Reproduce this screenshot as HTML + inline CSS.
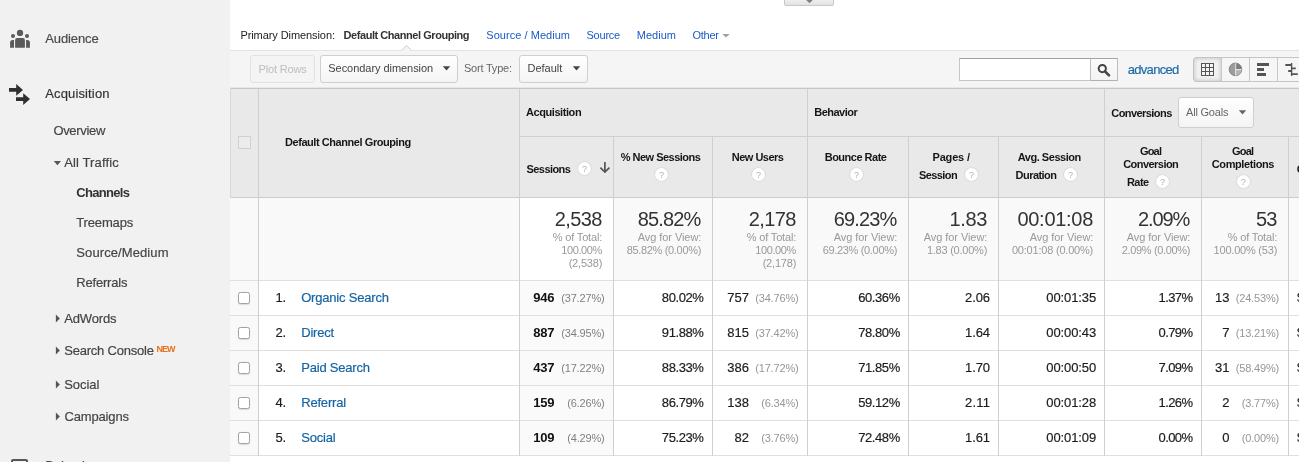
<!DOCTYPE html>
<html><head><meta charset="utf-8"><title>Analytics</title><style>html,body{margin:0;padding:0;background:#fff;}
body{width:1299px;height:462px;overflow:hidden;position:relative;font-family:"Liberation Sans",sans-serif;}
.t{position:absolute;white-space:pre;}
#wrap{position:absolute;left:0;top:0;width:1299px;height:462px;overflow:hidden;will-change:transform;}
.r{position:absolute;}
.q{width:13px;height:13px;border-radius:50%;background:#fff;box-shadow:0 0 0 0.8px #d9d9d9;color:#b0b0b0;font-size:9px;line-height:14.4px;text-align:center;}
</style></head><body><div id="wrap">
<div class="r" style="left:0px;top:0px;width:230px;height:462px;background:#f1f1f1;"></div>
<div class="r" style="left:784px;top:-3px;width:48px;height:7px;background:linear-gradient(#f3f3f3,#e2e2e2);border:1px solid #c8c8c8;border-radius:0 0 2px 2px;"></div>
<svg class="r" style="left:804px;top:0" width="12" height="5"><path d="M2.2 0 L8.8 0 L5.5 3.2Z" fill="#808080"/></svg>
<div class="r" style="left:230px;top:50px;width:1069px;height:38px;background:#f5f5f5;border-top:1px solid #e3e3e3;box-sizing:border-box;"></div>
<svg class="r" style="left:400px;top:44px" width="14" height="8"><path d="M1 7 L6.5 1.5 L12 7" fill="#f5f5f5" stroke="#cdcdcd" stroke-width="1"/><path d="M1.6 7.2 L11.4 7.2" stroke="#f5f5f5" stroke-width="1.6"/></svg>
<div class="r" style="left:230px;top:88px;width:1069px;height:110px;background:#e9e9e9;"></div>
<div class="r" style="left:230px;top:198px;width:1069px;height:82px;background:#f9f9f9;"></div>
<div class="r" style="left:520px;top:198px;width:93px;height:82px;background:#fff;"></div>
<div class="r" style="left:520px;top:281px;width:93px;height:174px;background:#fafafa;"></div>
<div class="r" style="left:230px;top:281px;width:28px;height:174px;background:#f9f9f9;"></div>
<div class="r" style="left:230px;top:87px;width:1069px;height:1px;background:#e7e7e7;"></div>
<div class="r" style="left:230px;top:88px;width:1069px;height:1px;background:#c6c6c6;"></div>
<div class="r" style="left:519px;top:136px;width:780px;height:1px;background:#cfcfcf;"></div>
<div class="r" style="left:230px;top:197px;width:1069px;height:1px;background:#cdcdcd;"></div>
<div class="r" style="left:230px;top:280px;width:1069px;height:1px;background:#dfdfdf;"></div>
<div class="r" style="left:230px;top:315px;width:1069px;height:1px;background:#dfdfdf;"></div>
<div class="r" style="left:230px;top:350px;width:1069px;height:1px;background:#dfdfdf;"></div>
<div class="r" style="left:230px;top:385px;width:1069px;height:1px;background:#dfdfdf;"></div>
<div class="r" style="left:230px;top:420px;width:1069px;height:1px;background:#dfdfdf;"></div>
<div class="r" style="left:230px;top:455px;width:1069px;height:1px;background:#dfdfdf;"></div>
<div class="r" style="left:258px;top:89px;width:1px;height:367px;background:#cfcfcf;"></div>
<div class="r" style="left:519px;top:89px;width:1px;height:367px;background:#cfcfcf;"></div>
<div class="r" style="left:807px;top:89px;width:1px;height:367px;background:#cfcfcf;"></div>
<div class="r" style="left:1104px;top:89px;width:1px;height:367px;background:#cfcfcf;"></div>
<div class="r" style="left:613px;top:137px;width:1px;height:319px;background:#cfcfcf;"></div>
<div class="r" style="left:712px;top:137px;width:1px;height:319px;background:#cfcfcf;"></div>
<div class="r" style="left:908px;top:137px;width:1px;height:319px;background:#cfcfcf;"></div>
<div class="r" style="left:998px;top:137px;width:1px;height:319px;background:#cfcfcf;"></div>
<div class="r" style="left:1201px;top:137px;width:1px;height:319px;background:#cfcfcf;"></div>
<div class="r" style="left:1288px;top:137px;width:1px;height:319px;background:#cfcfcf;"></div>
<div class="r" style="left:230px;top:88px;width:1px;height:110px;background:#d8d8d8;"></div>
<svg class="r" style="left:8px;top:26px" width="26" height="26" viewBox="8 26 26 26">
<g fill="#5a5a5a"><circle cx="20" cy="32.9" r="3.15"/><circle cx="13" cy="36" r="2.05"/><circle cx="27" cy="36" r="2.05"/>
<path d="M15.1 47.8 V40 a2 2 0 0 1 2 -2 h5.8 a2 2 0 0 1 2 2 V47.8Z"/>
<path d="M10.1 47.8 V42.6 a2.6 2.6 0 0 1 2.6 -2.6 H14 V47.8Z"/>
<path d="M29.9 47.8 V42.6 a2.6 2.6 0 0 0 -2.6 -2.6 H26.1 V47.8Z"/></g></svg>
<svg class="r" style="left:8px;top:82px" width="26" height="26" viewBox="8 82 26 26">
<g fill="#2f2f2f"><path d="M9 88.1 H16.2 V84.1 L23 89.9 L16.2 95.7 V91.7 H9Z"/>
<path d="M16 97.3 H23.2 V93.3 L30 99.1 L23.2 104.9 V100.9 H16Z"/></g></svg>
<span class="t" style="left:45.20px;top:32.00px;font-size:13px;line-height:13px;color:#4a4a4a;-webkit-text-stroke:0.18px currentColor;letter-spacing:-0.101px;">Audience</span>
<span class="t" style="left:45.20px;top:87.00px;font-size:13px;line-height:13px;color:#333;-webkit-text-stroke:0.18px currentColor;letter-spacing:0.143px;">Acquisition</span>
<span class="t" style="left:53.40px;top:124.20px;font-size:13px;line-height:13px;color:#444;-webkit-text-stroke:0.18px currentColor;letter-spacing:-0.325px;">Overview</span>
<svg class="r" style="left:53px;top:160px" width="9" height="6"><path d="M0.8 0.9 L8 0.9 L4.4 5.2Z" fill="#555"/></svg>
<span class="t" style="left:64.20px;top:155.80px;font-size:13px;line-height:13px;color:#444;-webkit-text-stroke:0.18px currentColor;letter-spacing:0.128px;">All Traffic</span>
<span class="t" style="left:76.30px;top:186.10px;font-size:13px;line-height:13px;color:#333;font-weight:bold;letter-spacing:-0.688px;">Channels</span>
<span class="t" style="left:76.30px;top:215.90px;font-size:13px;line-height:13px;color:#444;-webkit-text-stroke:0.18px currentColor;letter-spacing:-0.162px;">Treemaps</span>
<span class="t" style="left:76.30px;top:245.80px;font-size:13px;line-height:13px;color:#444;-webkit-text-stroke:0.18px currentColor;letter-spacing:0.097px;">Source/Medium</span>
<span class="t" style="left:76.30px;top:276.10px;font-size:13px;line-height:13px;color:#444;-webkit-text-stroke:0.18px currentColor;letter-spacing:-0.205px;">Referrals</span>
<svg class="r" style="left:55px;top:314.0px" width="6" height="9"><path d="M0.9 0.6 L4.9 4.5 L0.9 8.4Z" fill="#555"/></svg>
<svg class="r" style="left:55px;top:345.8px" width="6" height="9"><path d="M0.9 0.6 L4.9 4.5 L0.9 8.4Z" fill="#555"/></svg>
<svg class="r" style="left:55px;top:380.0px" width="6" height="9"><path d="M0.9 0.6 L4.9 4.5 L0.9 8.4Z" fill="#555"/></svg>
<svg class="r" style="left:55px;top:412.1px" width="6" height="9"><path d="M0.9 0.6 L4.9 4.5 L0.9 8.4Z" fill="#555"/></svg>
<span class="t" style="left:64.20px;top:312.00px;font-size:13px;line-height:13px;color:#444;-webkit-text-stroke:0.18px currentColor;letter-spacing:-0.138px;">AdWords</span>
<span class="t" style="left:64.20px;top:343.80px;font-size:13px;line-height:13px;color:#444;-webkit-text-stroke:0.18px currentColor;letter-spacing:-0.208px;">Search Console</span>
<span class="t" style="left:156.60px;top:345.18px;font-size:9px;line-height:9px;color:#e8711a;font-weight:bold;letter-spacing:-1.049px;">NEW</span>
<span class="t" style="left:64.20px;top:378.00px;font-size:13px;line-height:13px;color:#444;-webkit-text-stroke:0.18px currentColor;letter-spacing:-0.062px;">Social</span>
<span class="t" style="left:64.40px;top:409.90px;font-size:13px;line-height:13px;color:#444;-webkit-text-stroke:0.18px currentColor;letter-spacing:-0.144px;">Campaigns</span>
<div class="r" style="left:11px;top:459px;width:17px;height:8px;border:2px solid #565656;box-sizing:border-box;border-radius:2px;"></div>
<span class="t" style="left:45.20px;top:459.20px;font-size:13px;line-height:13px;color:#4a4a4a;-webkit-text-stroke:0.18px currentColor;">Behavior</span>
<span class="t" style="left:240.40px;top:29.99px;font-size:11px;line-height:11px;color:#222;letter-spacing:-0.080px;">Primary Dimension:</span>
<span class="t" style="left:343.60px;top:29.99px;font-size:11px;line-height:11px;color:#333;font-weight:bold;letter-spacing:-0.447px;">Default Channel Grouping</span>
<span class="t" style="left:486.30px;top:29.99px;font-size:11px;line-height:11px;color:#1a5bc7;letter-spacing:0.040px;">Source / Medium</span>
<span class="t" style="left:586.50px;top:29.99px;font-size:11px;line-height:11px;color:#1a5bc7;letter-spacing:-0.231px;">Source</span>
<span class="t" style="left:636.70px;top:29.99px;font-size:11px;line-height:11px;color:#1a5bc7;letter-spacing:0.035px;">Medium</span>
<span class="t" style="left:692.50px;top:29.99px;font-size:11px;line-height:11px;color:#1a5bc7;letter-spacing:-0.278px;">Other</span>
<svg class="r" style="left:722px;top:33px" width="9" height="6"><path d="M0.3 1 L7.7 1 L4 4.6Z" fill="#a0a0a0"/></svg>
<div class="r" style="left:250px;top:55px;width:65px;height:28px;border:1px solid #e2e2e2;border-radius:3px;box-sizing:border-box;background:#f4f4f4;"></div>
<span class="t" style="left:258.60px;top:63.89px;font-size:11px;line-height:11px;color:#bdbdbd;letter-spacing:-0.165px;">Plot Rows</span>
<div class="r" style="left:320px;top:55px;width:138px;height:28px;border:1px solid #cfcfcf;border-radius:3px;box-sizing:border-box;background:linear-gradient(#fff,#f4f4f4);"></div>
<span class="t" style="left:328.30px;top:63.39px;font-size:11px;line-height:11px;color:#444;letter-spacing:-0.049px;">Secondary dimension</span>
<svg class="r" style="left:442px;top:65px" width="10" height="7"><path d="M0.8 1.3 L8.2 1.3 L4.5 5.4Z" fill="#444"/></svg>
<span class="t" style="left:464.00px;top:63.39px;font-size:11px;line-height:11px;color:#666;letter-spacing:-0.215px;">Sort Type:</span>
<div class="r" style="left:519px;top:55px;width:69px;height:28px;border:1px solid #cfcfcf;border-radius:3px;box-sizing:border-box;background:linear-gradient(#fff,#f4f4f4);"></div>
<span class="t" style="left:527.60px;top:63.39px;font-size:11px;line-height:11px;color:#444;letter-spacing:-0.042px;">Default</span>
<svg class="r" style="left:572px;top:65px" width="10" height="7"><path d="M0.8 1.3 L8.2 1.3 L4.5 5.4Z" fill="#444"/></svg>
<div class="r" style="left:959px;top:58px;width:132px;height:23px;background:#fff;border:1px solid #c6c6c6;border-top-color:#a0a0a0;box-sizing:border-box;"></div>
<div class="r" style="left:1090px;top:58px;width:28.4px;height:23px;background:linear-gradient(#fbfbfb,#f3f3f3);border:1px solid #bdbdbd;border-top-color:#a4a4a4;border-bottom-color:#b0b0b0;box-sizing:border-box;border-radius:0 1px 1px 0;"></div>
<svg class="r" style="left:1096.2px;top:61.7px" width="16" height="16"><circle cx="6.3" cy="6.6" r="3.6" fill="none" stroke="#444" stroke-width="2"/><path d="M9 9.4 L13 13.4" stroke="#444" stroke-width="2.6" stroke-linecap="round"/></svg>
<span class="t" style="left:1127.80px;top:63.00px;font-size:13px;line-height:13px;color:#1c6aa5;-webkit-text-stroke:0.18px currentColor;letter-spacing:-0.711px;">advanced</span>
<div class="r" style="left:1193px;top:57px;width:110px;height:25px;border:1px solid #c4c4c4;border-radius:3px;box-sizing:border-box;background:#f6f6f6;"></div>
<div class="r" style="left:1194px;top:58px;width:27px;height:23px;background:#f1f1f1;box-shadow:inset 0 0 4px rgba(0,0,0,.22);border-radius:2px 0 0 2px;"></div>
<div class="r" style="left:1221px;top:58px;width:1px;height:23px;background:#c8c8c8;"></div>
<div class="r" style="left:1249px;top:58px;width:1px;height:23px;background:#c8c8c8;"></div>
<div class="r" style="left:1277px;top:58px;width:1px;height:23px;background:#c8c8c8;"></div>
<svg class="r" style="left:1201px;top:63px" width="13" height="13"><rect width="13" height="13" fill="#555"/><rect x="1" y="1" width="3" height="3" fill="#f4f4f4"/><rect x="1" y="5" width="3" height="3" fill="#f4f4f4"/><rect x="1" y="9" width="3" height="3" fill="#f4f4f4"/><rect x="5" y="1" width="3" height="3" fill="#f4f4f4"/><rect x="5" y="5" width="3" height="3" fill="#f4f4f4"/><rect x="5" y="9" width="3" height="3" fill="#f4f4f4"/><rect x="9" y="1" width="3" height="3" fill="#f4f4f4"/><rect x="9" y="5" width="3" height="3" fill="#f4f4f4"/><rect x="9" y="9" width="3" height="3" fill="#f4f4f4"/></svg>
<svg class="r" style="left:1228px;top:62px" width="15" height="15" viewBox="0 0 15 15">
<circle cx="7.5" cy="7.4" r="6.3" fill="#9c9c9c" stroke="#7d7d7d" stroke-width="0.9"/>
<path d="M7.5 7.4 V1.4 A6 6 0 0 1 13.5 7.4Z" fill="#7c7c7c"/>
<path d="M7.5 7.4 H13.5 A6 6 0 0 1 7.5 13.4Z" fill="#b4b4b4"/>
<path d="M7.7 1.2 V13.6 M7.7 7.6 H13.6" stroke="#f2f2f2" stroke-width="0.9" fill="none"/></svg>
<div class="r" style="left:1257px;top:63px;width:12px;height:3px;background:#555;"></div>
<div class="r" style="left:1257px;top:68px;width:7px;height:3px;background:#555;"></div>
<div class="r" style="left:1257px;top:73px;width:9px;height:3px;background:#555;"></div>
<svg class="r" style="left:1284px;top:62px" width="15" height="15"><g stroke="#555" fill="none"><path d="M7.6 1 V14" stroke-width="1.4"/><path d="M1.3 3 H7.6 M7.6 6.3 H11.8 M4.2 9 H7.6 M7.6 12.2 H13.8" stroke-width="1.8"/></g></svg>
<div class="r" style="left:238px;top:136px;width:13px;height:13px;border:1px solid #cfcfcf;box-sizing:border-box;background:#ececec;"></div>
<span class="t" style="left:285.00px;top:136.69px;font-size:11px;line-height:11px;color:#161616;font-weight:bold;letter-spacing:-0.438px;">Default Channel Grouping</span>
<span class="t" style="left:526.00px;top:106.89px;font-size:11px;line-height:11px;color:#161616;font-weight:bold;letter-spacing:-0.429px;">Acquisition</span>
<span class="t" style="left:814.30px;top:106.89px;font-size:11px;line-height:11px;color:#161616;font-weight:bold;letter-spacing:-0.525px;">Behavior</span>
<span class="t" style="left:1111.30px;top:107.69px;font-size:11px;line-height:11px;color:#161616;font-weight:bold;letter-spacing:-0.563px;">Conversions</span>
<div class="r" style="left:1178px;top:97px;width:76px;height:31px;border:1px solid #cfcfcf;border-radius:3px;box-sizing:border-box;background:linear-gradient(#fff,#f4f4f4);"></div>
<span class="t" style="left:1186.00px;top:106.69px;font-size:11px;line-height:11px;color:#666;letter-spacing:-0.202px;">All Goals</span>
<svg class="r" style="left:1238px;top:108.6px" width="10" height="7"><path d="M0.8 1.3 L8.2 1.3 L4.5 5.4Z" fill="#666"/></svg>
<span class="t" style="left:526.50px;top:163.69px;font-size:11px;line-height:11px;color:#161616;font-weight:bold;letter-spacing:-0.558px;">Sessions</span>
<div class="r q" style="left:577.9px;top:162.1px;">?</div>
<svg class="r" style="left:598px;top:160px" width="14" height="14"><path d="M6.9 2 V12 M2.4 7.6 L6.9 12.1 L11.4 7.6" fill="none" stroke="#555" stroke-width="1.7"/></svg>
<span class="t" style="left:620.80px;top:151.69px;font-size:11px;line-height:11px;color:#161616;font-weight:bold;letter-spacing:-0.524px;">% New Sessions</span>
<div class="r q" style="left:655.0px;top:168.1px;">?</div>
<span class="t" style="left:731.70px;top:151.69px;font-size:11px;line-height:11px;color:#161616;font-weight:bold;letter-spacing:-0.494px;">New Users</span>
<div class="r q" style="left:751.9px;top:168.1px;">?</div>
<span class="t" style="left:824.70px;top:151.69px;font-size:11px;line-height:11px;color:#161616;font-weight:bold;letter-spacing:-0.494px;">Bounce Rate</span>
<div class="r q" style="left:849.9px;top:168.1px;">?</div>
<span class="t" style="left:932.50px;top:151.69px;font-size:11px;line-height:11px;color:#161616;font-weight:bold;letter-spacing:-0.170px;">Pages /</span>
<span class="t" style="left:919.00px;top:169.69px;font-size:11px;line-height:11px;color:#161616;font-weight:bold;letter-spacing:-0.581px;">Session</span>
<div class="r q" style="left:964.9px;top:168.1px;">?</div>
<span class="t" style="left:1017.70px;top:151.69px;font-size:11px;line-height:11px;color:#161616;font-weight:bold;letter-spacing:-0.461px;">Avg. Session</span>
<span class="t" style="left:1015.60px;top:169.69px;font-size:11px;line-height:11px;color:#161616;font-weight:bold;letter-spacing:-0.546px;">Duration</span>
<div class="r q" style="left:1063.9px;top:168.1px;">?</div>
<span class="t" style="left:1139.90px;top:145.69px;font-size:11px;line-height:11px;color:#161616;font-weight:bold;letter-spacing:-0.783px;">Goal</span>
<span class="t" style="left:1123.20px;top:158.69px;font-size:11px;line-height:11px;color:#161616;font-weight:bold;letter-spacing:-0.546px;">Conversion</span>
<span class="t" style="left:1126.90px;top:176.69px;font-size:11px;line-height:11px;color:#161616;font-weight:bold;letter-spacing:-0.514px;">Rate</span>
<div class="r q" style="left:1156.0px;top:175.1px;">?</div>
<span class="t" style="left:1232.00px;top:145.69px;font-size:11px;line-height:11px;color:#161616;font-weight:bold;letter-spacing:-0.783px;">Goal</span>
<span class="t" style="left:1211.80px;top:158.69px;font-size:11px;line-height:11px;color:#161616;font-weight:bold;letter-spacing:-0.401px;">Completions</span>
<div class="r q" style="left:1236.8px;top:175.1px;">?</div>
<span class="t" style="left:1296.80px;top:163.69px;font-size:11px;line-height:11px;color:#161616;font-weight:bold;">G</span>
<span class="t" style="left:554.66px;top:209.07px;font-size:20px;line-height:20px;color:#333;letter-spacing:-0.602px;">2,538</span>
<span class="t" style="left:552.80px;top:231.69px;font-size:11px;line-height:11px;color:#999;letter-spacing:-0.166px;">% of Total:</span>
<span class="t" style="left:561.27px;top:244.69px;font-size:11px;line-height:11px;color:#999;letter-spacing:-0.400px;">100.00%</span>
<span class="t" style="left:568.65px;top:257.69px;font-size:11px;line-height:11px;color:#999;letter-spacing:-0.200px;">(2,538)</span>
<span class="t" style="left:637.68px;top:209.07px;font-size:20px;line-height:20px;color:#333;letter-spacing:-0.842px;">85.82%</span>
<span class="t" style="left:637.80px;top:231.69px;font-size:11px;line-height:11px;color:#999;letter-spacing:-0.075px;">Avg for View:</span>
<span class="t" style="left:626.66px;top:244.69px;font-size:11px;line-height:11px;color:#999;letter-spacing:-0.326px;">85.82% (0.00%)</span>
<span class="t" style="left:748.66px;top:209.07px;font-size:20px;line-height:20px;color:#333;letter-spacing:-0.602px;">2,178</span>
<span class="t" style="left:746.80px;top:231.69px;font-size:11px;line-height:11px;color:#999;letter-spacing:-0.166px;">% of Total:</span>
<span class="t" style="left:755.27px;top:244.69px;font-size:11px;line-height:11px;color:#999;letter-spacing:-0.400px;">100.00%</span>
<span class="t" style="left:762.65px;top:257.69px;font-size:11px;line-height:11px;color:#999;letter-spacing:-0.200px;">(2,178)</span>
<span class="t" style="left:833.68px;top:209.07px;font-size:20px;line-height:20px;color:#333;letter-spacing:-0.842px;">69.23%</span>
<span class="t" style="left:833.80px;top:231.69px;font-size:11px;line-height:11px;color:#999;letter-spacing:-0.075px;">Avg for View:</span>
<span class="t" style="left:822.66px;top:244.69px;font-size:11px;line-height:11px;color:#999;letter-spacing:-0.326px;">69.23% (0.00%)</span>
<span class="t" style="left:949.55px;top:209.07px;font-size:20px;line-height:20px;color:#333;letter-spacing:-0.392px;">1.83</span>
<span class="t" style="left:923.80px;top:231.69px;font-size:11px;line-height:11px;color:#999;letter-spacing:-0.075px;">Avg for View:</span>
<span class="t" style="left:926.88px;top:244.69px;font-size:11px;line-height:11px;color:#999;letter-spacing:-0.233px;">1.83 (0.00%)</span>
<span class="t" style="left:1017.44px;top:209.07px;font-size:20px;line-height:20px;color:#333;letter-spacing:-0.285px;">00:01:08</span>
<span class="t" style="left:1029.80px;top:231.69px;font-size:11px;line-height:11px;color:#999;letter-spacing:-0.075px;">Avg for View:</span>
<span class="t" style="left:1011.92px;top:244.69px;font-size:11px;line-height:11px;color:#999;letter-spacing:-0.201px;">00:01:08 (0.00%)</span>
<span class="t" style="left:1137.91px;top:209.07px;font-size:20px;line-height:20px;color:#333;letter-spacing:-1.080px;">2.09%</span>
<span class="t" style="left:1126.80px;top:231.69px;font-size:11px;line-height:11px;color:#999;letter-spacing:-0.075px;">Avg for View:</span>
<span class="t" style="left:1121.83px;top:244.69px;font-size:11px;line-height:11px;color:#999;letter-spacing:-0.358px;">2.09% (0.00%)</span>
<span class="t" style="left:1256.04px;top:209.07px;font-size:20px;line-height:20px;color:#333;letter-spacing:-0.986px;">53</span>
<span class="t" style="left:1227.80px;top:231.69px;font-size:11px;line-height:11px;color:#999;letter-spacing:-0.166px;">% of Total:</span>
<span class="t" style="left:1213.60px;top:244.69px;font-size:11px;line-height:11px;color:#999;letter-spacing:-0.213px;">100.00% (53)</span>
<div class="r" style="left:238px;top:291.8px;width:12px;height:12px;border:1px solid #a2a2a2;border-radius:2.5px;box-sizing:border-box;background:#fff;box-shadow:0 0.5px 1px rgba(0,0,0,.12);"></div>
<span class="t" style="left:275.40px;top:291.30px;font-size:13px;line-height:13px;color:#1c1c1c;-webkit-text-stroke:0.18px currentColor;letter-spacing:-0.242px;">1.</span>
<span class="t" style="left:301.20px;top:291.30px;font-size:13px;line-height:13px;color:#1463a3;-webkit-text-stroke:0.18px currentColor;letter-spacing:-0.195px;">Organic Search</span>
<span class="t" style="left:533.30px;top:291.30px;font-size:13px;line-height:13px;color:#111;font-weight:bold;letter-spacing:-0.246px;">946</span>
<span class="t" style="left:561.16px;top:292.69px;font-size:11px;line-height:11px;color:#808080;letter-spacing:-0.156px;">(37.27%)</span>
<span class="t" style="left:661.87px;top:291.30px;font-size:13px;line-height:13px;color:#1c1c1c;-webkit-text-stroke:0.18px currentColor;letter-spacing:-0.432px;">80.02%</span>
<span class="t" style="left:727.30px;top:291.30px;font-size:13px;line-height:13px;color:#1c1c1c;-webkit-text-stroke:0.18px currentColor;">757</span>
<span class="t" style="left:755.16px;top:292.69px;font-size:11px;line-height:11px;color:#969696;letter-spacing:-0.156px;">(34.76%)</span>
<span class="t" style="left:858.27px;top:291.30px;font-size:13px;line-height:13px;color:#1c1c1c;-webkit-text-stroke:0.18px currentColor;letter-spacing:-0.432px;">60.36%</span>
<span class="t" style="left:964.98px;top:291.30px;font-size:13px;line-height:13px;color:#1c1c1c;-webkit-text-stroke:0.18px currentColor;letter-spacing:-0.061px;">2.06</span>
<span class="t" style="left:1046.31px;top:291.30px;font-size:13px;line-height:13px;color:#1c1c1c;-webkit-text-stroke:0.18px currentColor;letter-spacing:-0.102px;">00:01:35</span>
<span class="t" style="left:1158.47px;top:291.30px;font-size:13px;line-height:13px;color:#1c1c1c;-webkit-text-stroke:0.18px currentColor;letter-spacing:-0.557px;">1.37%</span>
<span class="t" style="left:1215.00px;top:291.30px;font-size:13px;line-height:13px;color:#1c1c1c;-webkit-text-stroke:0.18px currentColor;letter-spacing:-0.061px;">13</span>
<span class="t" style="left:1235.66px;top:292.69px;font-size:11px;line-height:11px;color:#969696;letter-spacing:-0.156px;">(24.53%)</span>
<span class="t" style="left:1297.00px;top:291.30px;font-size:13px;line-height:13px;color:#222;-webkit-text-stroke:0.18px currentColor;">$</span>
<div class="r" style="left:238px;top:326.8px;width:12px;height:12px;border:1px solid #a2a2a2;border-radius:2.5px;box-sizing:border-box;background:#fff;box-shadow:0 0.5px 1px rgba(0,0,0,.12);"></div>
<span class="t" style="left:275.40px;top:326.30px;font-size:13px;line-height:13px;color:#1c1c1c;-webkit-text-stroke:0.18px currentColor;letter-spacing:-0.242px;">2.</span>
<span class="t" style="left:301.20px;top:326.30px;font-size:13px;line-height:13px;color:#1463a3;-webkit-text-stroke:0.18px currentColor;letter-spacing:-0.190px;">Direct</span>
<span class="t" style="left:533.30px;top:326.30px;font-size:13px;line-height:13px;color:#111;font-weight:bold;letter-spacing:-0.246px;">887</span>
<span class="t" style="left:561.16px;top:327.69px;font-size:11px;line-height:11px;color:#808080;letter-spacing:-0.156px;">(34.95%)</span>
<span class="t" style="left:661.87px;top:326.30px;font-size:13px;line-height:13px;color:#1c1c1c;-webkit-text-stroke:0.18px currentColor;letter-spacing:-0.432px;">91.88%</span>
<span class="t" style="left:727.30px;top:326.30px;font-size:13px;line-height:13px;color:#1c1c1c;-webkit-text-stroke:0.18px currentColor;">815</span>
<span class="t" style="left:755.16px;top:327.69px;font-size:11px;line-height:11px;color:#969696;letter-spacing:-0.156px;">(37.42%)</span>
<span class="t" style="left:858.27px;top:326.30px;font-size:13px;line-height:13px;color:#1c1c1c;-webkit-text-stroke:0.18px currentColor;letter-spacing:-0.432px;">78.80%</span>
<span class="t" style="left:964.98px;top:326.30px;font-size:13px;line-height:13px;color:#1c1c1c;-webkit-text-stroke:0.18px currentColor;letter-spacing:-0.061px;">1.64</span>
<span class="t" style="left:1046.31px;top:326.30px;font-size:13px;line-height:13px;color:#1c1c1c;-webkit-text-stroke:0.18px currentColor;letter-spacing:-0.102px;">00:00:43</span>
<span class="t" style="left:1158.47px;top:326.30px;font-size:13px;line-height:13px;color:#1c1c1c;-webkit-text-stroke:0.18px currentColor;letter-spacing:-0.557px;">0.79%</span>
<span class="t" style="left:1222.30px;top:326.30px;font-size:13px;line-height:13px;color:#1c1c1c;-webkit-text-stroke:0.18px currentColor;">7</span>
<span class="t" style="left:1235.66px;top:327.69px;font-size:11px;line-height:11px;color:#969696;letter-spacing:-0.156px;">(13.21%)</span>
<span class="t" style="left:1297.00px;top:326.30px;font-size:13px;line-height:13px;color:#222;-webkit-text-stroke:0.18px currentColor;">$</span>
<div class="r" style="left:238px;top:361.8px;width:12px;height:12px;border:1px solid #a2a2a2;border-radius:2.5px;box-sizing:border-box;background:#fff;box-shadow:0 0.5px 1px rgba(0,0,0,.12);"></div>
<span class="t" style="left:275.40px;top:361.30px;font-size:13px;line-height:13px;color:#1c1c1c;-webkit-text-stroke:0.18px currentColor;letter-spacing:-0.242px;">3.</span>
<span class="t" style="left:301.20px;top:361.30px;font-size:13px;line-height:13px;color:#1463a3;-webkit-text-stroke:0.18px currentColor;letter-spacing:-0.198px;">Paid Search</span>
<span class="t" style="left:533.30px;top:361.30px;font-size:13px;line-height:13px;color:#111;font-weight:bold;letter-spacing:-0.246px;">437</span>
<span class="t" style="left:561.16px;top:362.69px;font-size:11px;line-height:11px;color:#808080;letter-spacing:-0.156px;">(17.22%)</span>
<span class="t" style="left:661.87px;top:361.30px;font-size:13px;line-height:13px;color:#1c1c1c;-webkit-text-stroke:0.18px currentColor;letter-spacing:-0.432px;">88.33%</span>
<span class="t" style="left:727.30px;top:361.30px;font-size:13px;line-height:13px;color:#1c1c1c;-webkit-text-stroke:0.18px currentColor;">386</span>
<span class="t" style="left:755.16px;top:362.69px;font-size:11px;line-height:11px;color:#969696;letter-spacing:-0.156px;">(17.72%)</span>
<span class="t" style="left:858.27px;top:361.30px;font-size:13px;line-height:13px;color:#1c1c1c;-webkit-text-stroke:0.18px currentColor;letter-spacing:-0.432px;">71.85%</span>
<span class="t" style="left:964.98px;top:361.30px;font-size:13px;line-height:13px;color:#1c1c1c;-webkit-text-stroke:0.18px currentColor;letter-spacing:-0.061px;">1.70</span>
<span class="t" style="left:1046.31px;top:361.30px;font-size:13px;line-height:13px;color:#1c1c1c;-webkit-text-stroke:0.18px currentColor;letter-spacing:-0.102px;">00:00:50</span>
<span class="t" style="left:1158.47px;top:361.30px;font-size:13px;line-height:13px;color:#1c1c1c;-webkit-text-stroke:0.18px currentColor;letter-spacing:-0.557px;">7.09%</span>
<span class="t" style="left:1215.00px;top:361.30px;font-size:13px;line-height:13px;color:#1c1c1c;-webkit-text-stroke:0.18px currentColor;letter-spacing:-0.061px;">31</span>
<span class="t" style="left:1235.66px;top:362.69px;font-size:11px;line-height:11px;color:#969696;letter-spacing:-0.156px;">(58.49%)</span>
<span class="t" style="left:1297.00px;top:361.30px;font-size:13px;line-height:13px;color:#222;-webkit-text-stroke:0.18px currentColor;">$</span>
<div class="r" style="left:238px;top:396.8px;width:12px;height:12px;border:1px solid #a2a2a2;border-radius:2.5px;box-sizing:border-box;background:#fff;box-shadow:0 0.5px 1px rgba(0,0,0,.12);"></div>
<span class="t" style="left:275.40px;top:396.30px;font-size:13px;line-height:13px;color:#1c1c1c;-webkit-text-stroke:0.18px currentColor;letter-spacing:-0.242px;">4.</span>
<span class="t" style="left:301.20px;top:396.30px;font-size:13px;line-height:13px;color:#1463a3;-webkit-text-stroke:0.18px currentColor;letter-spacing:-0.185px;">Referral</span>
<span class="t" style="left:533.30px;top:396.30px;font-size:13px;line-height:13px;color:#111;font-weight:bold;letter-spacing:-0.246px;">159</span>
<span class="t" style="left:567.34px;top:397.69px;font-size:11px;line-height:11px;color:#808080;letter-spacing:-0.192px;">(6.26%)</span>
<span class="t" style="left:661.87px;top:396.30px;font-size:13px;line-height:13px;color:#1c1c1c;-webkit-text-stroke:0.18px currentColor;letter-spacing:-0.432px;">86.79%</span>
<span class="t" style="left:727.30px;top:396.30px;font-size:13px;line-height:13px;color:#1c1c1c;-webkit-text-stroke:0.18px currentColor;">138</span>
<span class="t" style="left:761.34px;top:397.69px;font-size:11px;line-height:11px;color:#969696;letter-spacing:-0.192px;">(6.34%)</span>
<span class="t" style="left:858.27px;top:396.30px;font-size:13px;line-height:13px;color:#1c1c1c;-webkit-text-stroke:0.18px currentColor;letter-spacing:-0.432px;">59.12%</span>
<span class="t" style="left:964.98px;top:396.30px;font-size:13px;line-height:13px;color:#1c1c1c;-webkit-text-stroke:0.18px currentColor;letter-spacing:0.260px;">2.11</span>
<span class="t" style="left:1046.31px;top:396.30px;font-size:13px;line-height:13px;color:#1c1c1c;-webkit-text-stroke:0.18px currentColor;letter-spacing:-0.102px;">00:01:28</span>
<span class="t" style="left:1158.47px;top:396.30px;font-size:13px;line-height:13px;color:#1c1c1c;-webkit-text-stroke:0.18px currentColor;letter-spacing:-0.557px;">1.26%</span>
<span class="t" style="left:1222.30px;top:396.30px;font-size:13px;line-height:13px;color:#1c1c1c;-webkit-text-stroke:0.18px currentColor;">2</span>
<span class="t" style="left:1241.84px;top:397.69px;font-size:11px;line-height:11px;color:#969696;letter-spacing:-0.192px;">(3.77%)</span>
<span class="t" style="left:1297.00px;top:396.30px;font-size:13px;line-height:13px;color:#222;-webkit-text-stroke:0.18px currentColor;">$</span>
<div class="r" style="left:238px;top:431.8px;width:12px;height:12px;border:1px solid #a2a2a2;border-radius:2.5px;box-sizing:border-box;background:#fff;box-shadow:0 0.5px 1px rgba(0,0,0,.12);"></div>
<span class="t" style="left:275.40px;top:431.30px;font-size:13px;line-height:13px;color:#1c1c1c;-webkit-text-stroke:0.18px currentColor;letter-spacing:-0.242px;">5.</span>
<span class="t" style="left:301.20px;top:431.30px;font-size:13px;line-height:13px;color:#1463a3;-webkit-text-stroke:0.18px currentColor;letter-spacing:-0.198px;">Social</span>
<span class="t" style="left:533.30px;top:431.30px;font-size:13px;line-height:13px;color:#111;font-weight:bold;letter-spacing:-0.246px;">109</span>
<span class="t" style="left:567.34px;top:432.69px;font-size:11px;line-height:11px;color:#808080;letter-spacing:-0.192px;">(4.29%)</span>
<span class="t" style="left:661.87px;top:431.30px;font-size:13px;line-height:13px;color:#1c1c1c;-webkit-text-stroke:0.18px currentColor;letter-spacing:-0.432px;">75.23%</span>
<span class="t" style="left:734.60px;top:431.30px;font-size:13px;line-height:13px;color:#1c1c1c;-webkit-text-stroke:0.18px currentColor;letter-spacing:-0.061px;">82</span>
<span class="t" style="left:761.34px;top:432.69px;font-size:11px;line-height:11px;color:#969696;letter-spacing:-0.192px;">(3.76%)</span>
<span class="t" style="left:858.27px;top:431.30px;font-size:13px;line-height:13px;color:#1c1c1c;-webkit-text-stroke:0.18px currentColor;letter-spacing:-0.432px;">72.48%</span>
<span class="t" style="left:964.98px;top:431.30px;font-size:13px;line-height:13px;color:#1c1c1c;-webkit-text-stroke:0.18px currentColor;letter-spacing:-0.061px;">1.61</span>
<span class="t" style="left:1046.31px;top:431.30px;font-size:13px;line-height:13px;color:#1c1c1c;-webkit-text-stroke:0.18px currentColor;letter-spacing:-0.102px;">00:01:09</span>
<span class="t" style="left:1158.47px;top:431.30px;font-size:13px;line-height:13px;color:#1c1c1c;-webkit-text-stroke:0.18px currentColor;letter-spacing:-0.557px;">0.00%</span>
<span class="t" style="left:1222.30px;top:431.30px;font-size:13px;line-height:13px;color:#1c1c1c;-webkit-text-stroke:0.18px currentColor;">0</span>
<span class="t" style="left:1241.84px;top:432.69px;font-size:11px;line-height:11px;color:#969696;letter-spacing:-0.192px;">(0.00%)</span>
<span class="t" style="left:1297.00px;top:431.30px;font-size:13px;line-height:13px;color:#222;-webkit-text-stroke:0.18px currentColor;">$</span>
</div></body></html>
